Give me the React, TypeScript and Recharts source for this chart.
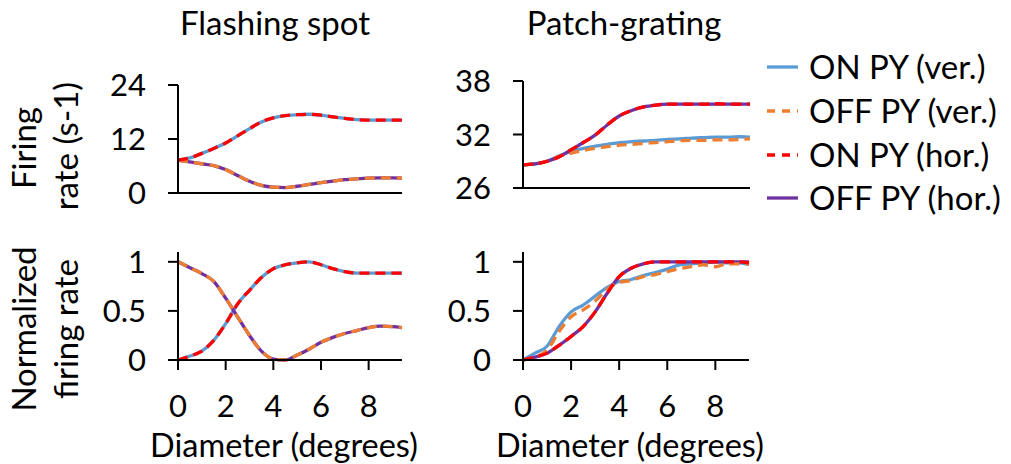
import { LineChart, Line, XAxis, YAxis } from 'recharts';

// diameter (degrees)
const diameters = [0, 0.5, 1, 1.5, 2, 2.5, 3, 3.5, 4, 4.5, 5, 5.5, 6, 6.5, 7, 7.5, 8, 8.5, 9, 9.4];

// Flashing spot, firing rate (s-1)
const spotOnVer = [7.3, 7.8, 8.8, 9.9, 11.1, 12.7, 14.3, 15.8, 16.7, 17.2, 17.4, 17.5, 17.3, 16.9, 16.6, 16.3, 16.2, 16.2, 16.2, 16.2];
const spotOnHor = [7.3, 7.8, 8.8, 9.9, 11.1, 12.7, 14.3, 15.8, 16.7, 17.2, 17.4, 17.5, 17.3, 16.9, 16.6, 16.3, 16.2, 16.2, 16.2, 16.2];
const spotOffVer = [7.3, 6.9, 6.5, 6.1, 5.2, 3.9, 2.6, 1.7, 1.3, 1.2, 1.5, 1.9, 2.3, 2.65, 2.95, 3.15, 3.3, 3.35, 3.35, 3.3];
const spotOffHor = [7.3, 6.9, 6.5, 6.1, 5.2, 3.9, 2.6, 1.7, 1.3, 1.2, 1.5, 1.9, 2.3, 2.65, 2.95, 3.15, 3.3, 3.35, 3.35, 3.3];

// Flashing spot, normalized
const spotNormOnVer = [0, 0.04, 0.09, 0.2, 0.37, 0.57, 0.71, 0.84, 0.93, 0.97, 0.99, 1.0, 0.97, 0.93, 0.9, 0.885, 0.885, 0.885, 0.885, 0.885];
const spotNormOnHor = [0, 0.04, 0.09, 0.2, 0.37, 0.57, 0.71, 0.84, 0.93, 0.97, 0.99, 1.0, 0.97, 0.93, 0.9, 0.885, 0.885, 0.885, 0.885, 0.885];
const spotNormOffVer = [1.0, 0.94, 0.88, 0.8, 0.63, 0.44, 0.25, 0.09, 0.01, 0.0, 0.05, 0.11, 0.18, 0.23, 0.27, 0.3, 0.33, 0.345, 0.34, 0.33];
const spotNormOffHor = [1.0, 0.94, 0.88, 0.8, 0.63, 0.44, 0.25, 0.09, 0.01, 0.0, 0.05, 0.11, 0.18, 0.23, 0.27, 0.3, 0.33, 0.345, 0.34, 0.33];

// Patch-grating, firing rate (s-1)
const patchOnVer = [28.6, 28.7, 29.0, 29.6, 30.1, 30.45, 30.7, 30.9, 31.1, 31.2, 31.27, 31.35, 31.45, 31.5, 31.6, 31.65, 31.7, 31.7, 31.75, 31.7];
const patchOffVer = [28.6, 28.7, 29.0, 29.55, 29.9, 30.2, 30.45, 30.65, 30.8, 30.9, 31.0, 31.1, 31.2, 31.3, 31.35, 31.35, 31.4, 31.4, 31.45, 31.5];
const patchOnHor = [28.6, 28.7, 29.0, 29.5, 30.3, 31.1, 31.95, 33.1, 34.1, 34.7, 35.1, 35.3, 35.4, 35.4, 35.4, 35.4, 35.45, 35.4, 35.4, 35.4];
const patchOffHor = [28.6, 28.7, 29.0, 29.5, 30.3, 31.1, 31.95, 33.1, 34.1, 34.7, 35.1, 35.3, 35.4, 35.4, 35.4, 35.4, 35.4, 35.4, 35.4, 35.4];

// Patch-grating, normalized
const patchNormOnVer = [0, 0.07, 0.14, 0.34, 0.49, 0.56, 0.65, 0.74, 0.8, 0.82, 0.86, 0.89, 0.925, 0.97, 0.98, 0.99, 1.0, 0.99, 0.99, 0.97];
const patchNormOffVer = [0, 0.03, 0.1, 0.29, 0.44, 0.51, 0.6, 0.72, 0.79, 0.81, 0.85, 0.87, 0.9, 0.93, 0.95, 0.97, 0.95, 0.98, 0.98, 0.98];
const patchNormOnHor = [0, 0.03, 0.07, 0.15, 0.24, 0.34, 0.49, 0.68, 0.85, 0.935, 0.98, 1.0, 1.0, 1.0, 1.0, 1.0, 1.0, 1.0, 1.0, 0.99];
const patchNormOffHor = [0, 0.03, 0.07, 0.15, 0.24, 0.34, 0.49, 0.68, 0.85, 0.935, 0.98, 1.0, 1.0, 1.0, 1.0, 1.0, 1.0, 1.0, 1.0, 1.0];

const xTicks = [0, 2, 4, 6, 8];

const seriesNames = ['ON PY (ver.)', 'OFF PY (ver.)', 'ON PY (hor.)', 'OFF PY (hor.)'];
const seriesColors = ['#5B9BD5', '#ED7D31', '#FF0000', '#7030A0'];
const seriesDashed = [false, true, true, false];

const FONT = 'Lato, "Open Sans", sans-serif';
const DASH = '10 6';

const makeRows = (onVer: number[], offVer: number[], onHor: number[], offHor: number[]) =>
  diameters.map((d, i) => ({ d, onVer: onVer[i], offVer: offVer[i], onHor: onHor[i], offHor: offHor[i] }));

interface PanelProps {
  left: number;
  top: number;
  plotW: number;
  plotH: number;
  yDomain: [number, number];
  yTicks: number[];
  rows: any[];
  showXLabels: boolean;
}

function Panel({ left, top, plotW, plotH, yDomain, yTicks, rows, showXLabels }: PanelProps) {
  const yW = 120;
  const mt = 26;
  const mr = 12;
  const xH = showXLabels ? 70 : 20;
  const axisLine = { stroke: '#000', strokeWidth: 2 };
  const tickFont = { fill: '#000', fontSize: 31, fontFamily: FONT };
  const lineProps = { type: 'monotone' as const, dot: false, isAnimationActive: false, strokeWidth: 3.3 };

  return (
    <div style={{ position: 'absolute', left: left - yW, top: top - mt }}>
      <LineChart width={yW + plotW + mr} height={mt + plotH + xH} data={rows} margin={{ top: mt, right: mr, bottom: 0, left: 0 }}>
        <XAxis
          dataKey="d"
          type="number"
          domain={[0, 9.4]}
          ticks={xTicks}
          interval={0}
          height={xH}
          axisLine={axisLine}
          tickLine={axisLine}
          tickSize={10}
          tickMargin={25}
          tick={showXLabels ? tickFont : false}
        />
        <YAxis
          type="number"
          domain={yDomain}
          ticks={yTicks}
          interval={0}
          width={yW}
          axisLine={axisLine}
          tickLine={axisLine}
          tickSize={10}
          tickMargin={22}
          tick={tickFont}
        />
        <Line dataKey="onVer" name={seriesNames[0]} stroke={seriesColors[0]} {...lineProps} />
        <Line dataKey="offHor" name={seriesNames[3]} stroke={seriesColors[3]} {...lineProps} />
        <Line dataKey="offVer" name={seriesNames[1]} stroke={seriesColors[1]} strokeDasharray={DASH} {...lineProps} />
        <Line dataKey="onHor" name={seriesNames[2]} stroke={seriesColors[2]} strokeDasharray={DASH} {...lineProps} />
      </LineChart>
    </div>
  );
}

export default function App() {
  const legendY = [67, 111, 155, 198];
  return (
    <div style={{ position: 'absolute', left: 0, top: 0, width: 1011, height: 464, background: '#fff', fontFamily: FONT }}>
      <Panel left={178} top={85} plotW={224} plotH={108} yDomain={[0, 24]} yTicks={[0, 12, 24]}
        rows={makeRows(spotOnVer, spotOffVer, spotOnHor, spotOffHor)} showXLabels={false} />
      <Panel left={523} top={81} plotW={227} plotH={107} yDomain={[26, 38]} yTicks={[26, 32, 38]}
        rows={makeRows(patchOnVer, patchOffVer, patchOnHor, patchOffHor)} showXLabels={false} />
      <Panel left={178} top={252} plotW={224} plotH={108} yDomain={[0, 1.1]} yTicks={[0, 0.5, 1]}
        rows={makeRows(spotNormOnVer, spotNormOffVer, spotNormOnHor, spotNormOffHor)} showXLabels />
      <Panel left={523} top={252} plotW={226} plotH={108} yDomain={[0, 1.1]} yTicks={[0, 0.5, 1]}
        rows={makeRows(patchNormOnVer, patchNormOffVer, patchNormOnHor, patchNormOffHor)} showXLabels />

      <svg width={1011} height={464} style={{ position: 'absolute', left: 0, top: 0, pointerEvents: 'none' }}>
        <g fontFamily={FONT} fill="#000">
          <text x={275} y={35} fontSize={33} textAnchor="middle">Flashing spot</text>
          <text x={624} y={35} fontSize={33} textAnchor="middle">Patch-grating</text>
          <text x={36} y={148} fontSize={33} textAnchor="middle" transform="rotate(-90 36 148)">Firing</text>
          <text x={78} y={146} fontSize={33} textAnchor="middle" transform="rotate(-90 78 146)">rate (s-1)</text>
          <text x={36} y={329} fontSize={33} textAnchor="middle" transform="rotate(-90 36 329)">Normalized</text>
          <text x={78} y={329} fontSize={33} textAnchor="middle" transform="rotate(-90 78 329)">firing rate</text>
          <text x={284} y={457} fontSize={32.5} textAnchor="middle">Diameter (degrees)</text>
          <text x={630} y={457} fontSize={32.5} textAnchor="middle">Diameter (degrees)</text>
          {seriesNames.map((name, i) => (
            <g key={name}>
              <line x1={767} x2={798} y1={legendY[i]} y2={legendY[i]} stroke={seriesColors[i]} strokeWidth={3.3}
                strokeDasharray={seriesDashed[i] ? '8 7' : undefined} />
              <text x={809} y={legendY[i] + 12} fontSize={33}>{name}</text>
            </g>
          ))}
        </g>
      </svg>
    </div>
  );
}
